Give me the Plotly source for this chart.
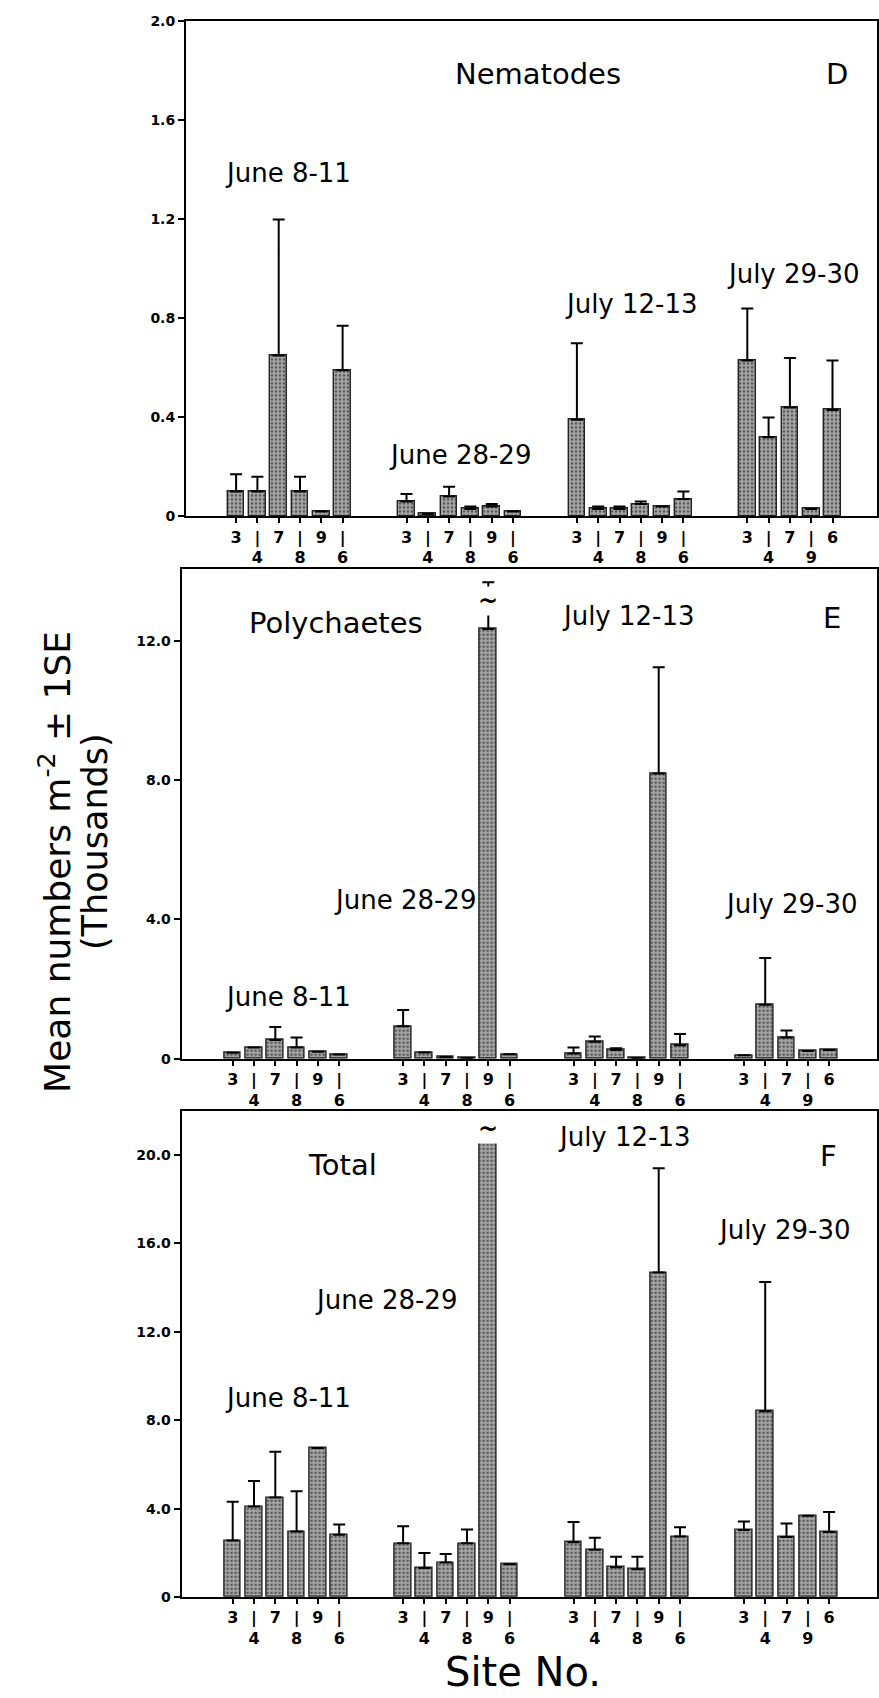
import plotly.graph_objects as go

# ---------------- data ----------------
periods = ["June 8-11", "June 28-29", "July 12-13", "July 29-30"]
sites = [["3", "4", "7", "8", "9", "6"],
         ["3", "4", "7", "8", "9", "6"],
         ["3", "4", "7", "8", "9", "6"],
         ["3", "4", "7", "9", "6"]]

# Nematodes (thousands m^-2), mean and +1SE
nem_mean = [[0.10, 0.10, 0.65, 0.10, 0.02, 0.59],
            [0.06, 0.01, 0.08, 0.03, 0.04, 0.02],
            [0.39, 0.03, 0.03, 0.05, 0.04, 0.07],
            [0.63, 0.32, 0.44, 0.03, 0.43]]
nem_se = [[0.07, 0.06, 0.55, 0.06, 0.00, 0.18],
          [0.03, 0.00, 0.04, 0.01, 0.01, 0.00],
          [0.31, 0.01, 0.01, 0.01, 0.00, 0.03],
          [0.21, 0.08, 0.20, 0.00, 0.20]]

# Polychaetes
poly_mean = [[0.17, 0.32, 0.54, 0.32, 0.20, 0.12],
             [0.93, 0.18, 0.05, 0.02, 12.34, 0.13],
             [0.15, 0.49, 0.25, 0.02, 8.19, 0.39],
             [0.10, 1.55, 0.61, 0.22, 0.25]]
poly_se = [[0.00, 0.00, 0.37, 0.29, 0.00, 0.00],
           [0.47, 0.00, 0.00, 0.00, 1.34, 0.00],
           [0.17, 0.15, 0.05, 0.00, 3.05, 0.32],
           [0.00, 1.34, 0.20, 0.00, 0.00]]

# Total
tot_mean = [[2.56, 4.10, 4.51, 2.97, 6.74, 2.82],
            [2.43, 1.32, 1.57, 2.43, 20.60, 1.49],
            [2.48, 2.14, 1.35, 1.26, 14.68, 2.74],
            [3.03, 8.41, 2.72, 3.68, 2.94]]
tot_se = [[1.75, 1.15, 2.07, 1.82, 0.00, 0.46],
          [0.77, 0.68, 0.38, 0.63, 0.94, 0.00],
          [0.92, 0.54, 0.48, 0.57, 4.72, 0.42],
          [0.39, 5.85, 0.61, 0.00, 0.91]]

# broken (off-scale) error bars: (group index, site index)
broken_poly = [(1, 4)]
broken_tot = [(1, 4)]

nem_ticks = [0, 0.4, 0.8, 1.2, 1.6, 2.0]
nem_ticktext = ["0", "0.4", "0.8", "1.2", "1.6", "2.0"]
poly_ticks = [0, 4, 8, 12]
poly_ticktext = ["0", "4.0", "8.0", "12.0"]
tot_ticks = [0, 4, 8, 12, 16, 20]
tot_ticktext = ["0", "4.0", "8.0", "12.0", "16.0", "20.0"]

# ---------------- layout helpers ----------------
W, H = 879, 1698
GROUP_STEP = 8
FONT = "DejaVu Sans"
PANEL_FS = 29
DATE_FS = 26

def flatten(groups):
    return [v for g in groups for v in g]

xpos = [gi * GROUP_STEP + si for gi, g in enumerate(sites) for si in range(len(g))]
# alternate rows: odd-position labels in first row, even-position labels in second row
ticktext = []
for gi, g in enumerate(sites):
    for si, s in enumerate(g):
        ticktext.append(s if si % 2 == 0 else "|<br>" + s)

panels = [
    dict(mean=nem_mean, se=nem_se, yr=[0, 2.0], tv=nem_ticks, tt=nem_ticktext,
         xdom=[186 / W, 877 / W], ydom=[1 - 513.2 / H, 1 - 13.6 / H],
         xr=[-2.352, 30.089], broken=[],
         labels=[("Nematodes", 14.17, 1.789, PANEL_FS), ("D", 28.2, 1.789, PANEL_FS),
                 ("June 8-11", 2.44, 1.389, DATE_FS), ("June 28-29", 10.52, 0.249, DATE_FS),
                 ("July 12-13", 18.54, 0.857, DATE_FS), ("July 29-30", 26.19, 0.981, DATE_FS)]),
    dict(mean=poly_mean, se=poly_se, yr=[0, 14.07], tv=poly_ticks, tt=poly_ticktext,
         xdom=[181.6 / W, 877 / W], ydom=[1 - 1060.7 / H, 1 - 566 / H],
         xr=[-2.399, 30.249], broken=broken_poly,
         labels=[("Polychaetes", 4.83, 12.51, PANEL_FS), ("E", 28.14, 12.65, PANEL_FS),
                 ("July 12-13", 18.6, 12.71, DATE_FS), ("June 28-29", 8.08, 4.57, DATE_FS),
                 ("July 29-30", 26.24, 4.43, DATE_FS), ("June 8-11", 2.58, 1.78, DATE_FS)]),
    dict(mean=tot_mean, se=tot_se, yr=[0, 22.0], tv=tot_ticks, tt=tot_ticktext,
         xdom=[181.6 / W, 877 / W], ydom=[1 - 1604.2 / H, 1 - 1113.3 / H],
         xr=[-2.399, 30.249], broken=broken_tot,
         labels=[("Total", 5.16, 19.55, PANEL_FS), ("F", 27.97, 19.96, PANEL_FS),
                 ("July 12-13", 18.39, 20.81, DATE_FS), ("June 28-29", 7.18, 13.46, DATE_FS),
                 ("July 29-30", 25.9, 16.62, DATE_FS), ("June 8-11", 2.58, 9.02, DATE_FS)]),
]

fig = go.Figure()
annotations = []
layout = {}

for i, p in enumerate(panels):
    n = "" if i == 0 else str(i + 1)
    xa, ya = "x" + n, "y" + n
    fig.add_trace(go.Bar(
        x=xpos, y=flatten(p["mean"]), width=0.78,
        xaxis=xa, yaxis=ya,
        marker=dict(color="#a0a0a0",
                    line=dict(color="#222222", width=1.4),
                    pattern=dict(shape=".", fillmode="replace", bgcolor="#a8a8a8",
                                 fgcolor="#555555", size=4, solidity=0.35)),
        error_y=dict(type="data", symmetric=False, array=flatten(p["se"]),
                     arrayminus=[0] * len(xpos), color="black", thickness=2, width=6),
        showlegend=False, hoverinfo="skip",
    ))
    layout["xaxis" + n] = dict(
        domain=p["xdom"], anchor=ya, range=p["xr"],
        tickmode="array", tickvals=xpos, ticktext=ticktext,
        ticks="outside", ticklen=5, tickwidth=2, tickcolor="black",
        tickfont=dict(family=FONT, size=16, color="black", weight="bold"),
        showline=True, linecolor="black", linewidth=2, mirror=True,
        showgrid=False, zeroline=False, fixedrange=True,
    )
    layout["yaxis" + n] = dict(
        domain=p["ydom"], anchor=xa, range=p["yr"],
        tickmode="array", tickvals=p["tv"], ticktext=p["tt"],
        ticks="outside", ticklen=6, tickwidth=2, tickcolor="black",
        tickfont=dict(family=FONT, size=14, color="black", weight="bold"),
        showline=True, linecolor="black", linewidth=2, mirror=True,
        showgrid=False, zeroline=False, fixedrange=True,
    )
    for text, ax_, ay_, fs in p["labels"]:
        annotations.append(dict(text=text, x=ax_, y=ay_, xref=xa, yref=ya,
                                xanchor="center", yanchor="middle",
                                showarrow=False,
                                font=dict(family=FONT, size=fs, color="black")))
    for gi, si in p["broken"]:
        m = p["mean"][gi][si]
        s = p["se"][gi][si]
        annotations.append(dict(text="~", x=gi * GROUP_STEP + si, y=m + 0.6 * s,
                                xref=xa, yref=ya, showarrow=False, bgcolor="white",
                                borderpad=0, xanchor="center", yanchor="middle",
                                font=dict(family=FONT, size=24, color="black",
                                          weight="bold")))

annotations.append(dict(text="Mean numbers m<sup>-2</sup> ± 1SE", x=55 / W, y=1 - 862 / H,
                        xref="paper", yref="paper", textangle=-90, showarrow=False,
                        xanchor="center", yanchor="middle",
                        font=dict(family=FONT, size=36, color="black")))
annotations.append(dict(text="(Thousands)", x=95 / W, y=1 - 842 / H,
                        xref="paper", yref="paper", textangle=-90, showarrow=False,
                        xanchor="center", yanchor="middle",
                        font=dict(family=FONT, size=35, color="black")))
annotations.append(dict(text="Site No.", x=523 / W, y=1 - 1680 / H,
                        xref="paper", yref="paper", showarrow=False,
                        xanchor="center", yanchor="middle",
                        font=dict(family=FONT, size=40, color="black")))

fig.update_layout(
    width=W, height=H, margin=dict(l=0, r=0, t=0, b=0),
    paper_bgcolor="white", plot_bgcolor="white",
    annotations=annotations, bargap=0, **layout,
)

fig.write_html("out.html")
